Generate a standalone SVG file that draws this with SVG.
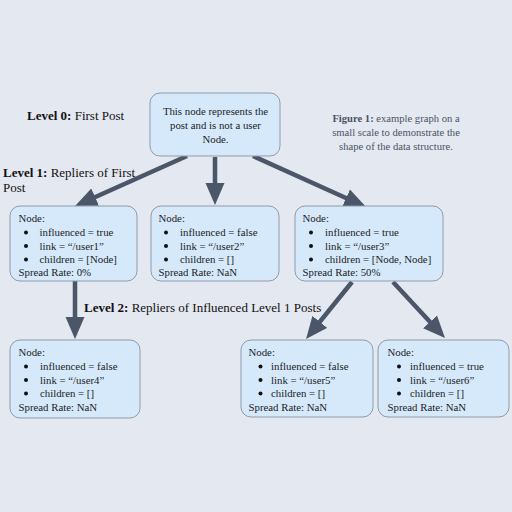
<svg xmlns="http://www.w3.org/2000/svg" width="512" height="512" viewBox="0 0 512 512">
<style>
.bg{fill:#e4e8f0}
.box{fill:#d5e9fb;stroke:#8f9bab;stroke-width:1}
.t{font-family:"Liberation Serif","Times New Roman",serif;font-size:10.8px;fill:#1c1c1c}
.lv{font-family:"Liberation Serif","Times New Roman",serif;font-size:13px;fill:#111}
.cap{font-family:"Liberation Serif","Times New Roman",serif;font-size:10.6px;fill:#4a5366}
.b{font-weight:bold}
.dot{fill:#111}
.arr{stroke:#4b5669;stroke-width:4.5;fill:none;marker-end:url(#ah)}
</style>
<defs>
<marker id="ah" markerUnits="userSpaceOnUse" markerWidth="24" markerHeight="20" refX="12" refY="10" orient="auto">
<path d="M0,0.5 L22,10 L0,19.5 z" fill="#4b5669"/>
</marker>
</defs>
<rect class="bg" x="0" y="0" width="512" height="512"/>

<text class="lv" x="27" y="120"><tspan class="b">Level 0:</tspan> First Post</text>
<text class="lv" x="3" y="177"><tspan class="b">Level 1:</tspan> Repliers of First</text>
<text class="lv" x="3" y="192">Post</text>
<text class="lv" x="84" y="312"><tspan class="b">Level 2:</tspan> Repliers of Influenced Level 1 Posts</text>
<g class="cap" text-anchor="middle">
<text x="396" y="122"><tspan class="b">Figure 1:</tspan> example graph on a</text>
<text x="396" y="136">small scale to demonstrate the</text>
<text x="396" y="150">shape of the data structure.</text>
</g>

<g id="connectors">
<line class="arr" x1="187" y1="156" x2="84.2" y2="202"/>
<line class="arr" x1="215" y1="157" x2="215" y2="195"/>
<line class="arr" x1="253" y1="156" x2="357" y2="203"/>
<line class="arr" x1="75" y1="281" x2="75" y2="329"/>
<line class="arr" x1="352" y1="282" x2="312.3" y2="331.2"/>
<line class="arr" x1="393" y1="282" x2="438.2" y2="330.7"/>
</g>

<g id="root">
<rect class="box" x="150" y="93" width="130" height="63" rx="10"/>
<g class="t" text-anchor="middle">
<text x="215.5" y="115">This node represents the</text>
<text x="215.5" y="129">post and is not a user</text>
<text x="215.5" y="142.5">Node.</text>
</g>
</g>

<g id="node1" transform="translate(10,206)">
<rect class="box" x="0" y="0" width="127" height="75" rx="10"/>
<text class="t" x="8.5" y="15.5">Node:</text>
<circle class="dot" cx="16" cy="26.5" r="2"/><text class="t" x="29.5" y="30">influenced = true</text>
<circle class="dot" cx="16" cy="40" r="2"/><text class="t" x="29.5" y="43.5">link = “/user1”</text>
<circle class="dot" cx="16" cy="53.5" r="2"/><text class="t" x="29.5" y="57">children = [Node]</text>
<text class="t" x="8.5" y="70">Spread Rate: 0%</text>
</g>

<g id="node2" transform="translate(151,206)">
<rect class="box" x="0" y="0" width="128" height="75" rx="10"/>
<text class="t" x="7.5" y="15.5">Node:</text>
<circle class="dot" cx="15" cy="26.5" r="2"/><text class="t" x="29" y="30">influenced = false</text>
<circle class="dot" cx="15" cy="40" r="2"/><text class="t" x="29" y="43.5">link = “/user2”</text>
<circle class="dot" cx="15" cy="53.5" r="2"/><text class="t" x="29" y="57">children = []</text>
<text class="t" x="7.5" y="70">Spread Rate: NaN</text>
</g>

<g id="node3" transform="translate(295,206)">
<rect class="box" x="0" y="0" width="148" height="75" rx="10"/>
<text class="t" x="7.5" y="15.5">Node:</text>
<circle class="dot" cx="16" cy="26.5" r="2"/><text class="t" x="30" y="30">influenced = true</text>
<circle class="dot" cx="16" cy="40" r="2"/><text class="t" x="30" y="43.5">link = “/user3”</text>
<circle class="dot" cx="16" cy="53.5" r="2"/><text class="t" x="30" y="57">children = [Node, Node]</text>
<text class="t" x="7.5" y="70">Spread Rate: 50%</text>
</g>

<g id="node4" transform="translate(10,340)">
<rect class="box" x="0" y="0" width="130" height="78" rx="10"/>
<text class="t" x="8.5" y="15.5">Node:</text>
<circle class="dot" cx="16" cy="26.5" r="2"/><text class="t" x="30" y="30">influenced = false</text>
<circle class="dot" cx="16" cy="40" r="2"/><text class="t" x="30" y="43.5">link = “/user4”</text>
<circle class="dot" cx="16" cy="53.5" r="2"/><text class="t" x="30" y="57">children = []</text>
<text class="t" x="8.5" y="71">Spread Rate: NaN</text>
</g>

<g id="node5" transform="translate(241,340)">
<rect class="box" x="0" y="0" width="132" height="77" rx="10"/>
<text class="t" x="7.5" y="15.5">Node:</text>
<circle class="dot" cx="19.5" cy="26.5" r="2"/><text class="t" x="30" y="30">influenced = false</text>
<circle class="dot" cx="19.5" cy="40" r="2"/><text class="t" x="30" y="43.5">link = “/user5”</text>
<circle class="dot" cx="19.5" cy="53.5" r="2"/><text class="t" x="30" y="57">children = []</text>
<text class="t" x="7.5" y="71">Spread Rate: NaN</text>
</g>

<g id="node6" transform="translate(378,340)">
<rect class="box" x="0" y="0" width="131" height="77" rx="10"/>
<text class="t" x="9.5" y="15.5">Node:</text>
<circle class="dot" cx="21" cy="26.5" r="2"/><text class="t" x="32" y="30">influenced = true</text>
<circle class="dot" cx="21" cy="40" r="2"/><text class="t" x="32" y="43.5">link = “/user6”</text>
<circle class="dot" cx="21" cy="53.5" r="2"/><text class="t" x="32" y="57">children = []</text>
<text class="t" x="9.5" y="71">Spread Rate: NaN</text>
</g>
</svg>
